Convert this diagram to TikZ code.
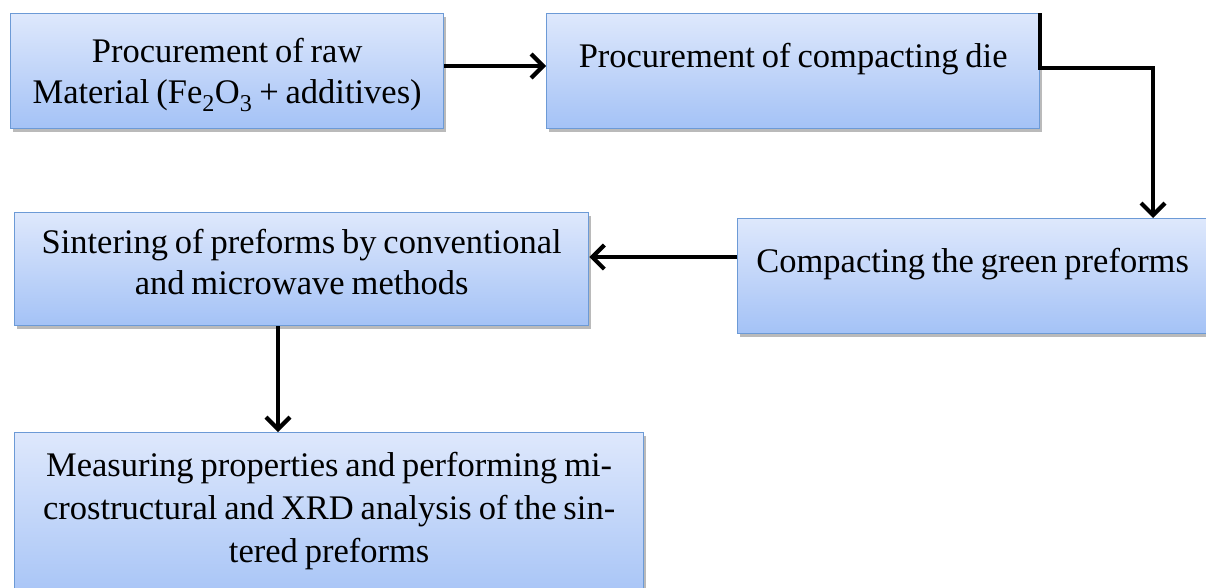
\documentclass[tikz,border=0pt]{standalone}
\usepackage{fontspec}
\setmainfont[WordSpace=0.8]{Liberation Serif}
\usetikzlibrary{arrows.meta,shadows}
\definecolor{boxtop}{HTML}{DEE8FC}
\definecolor{boxbot}{HTML}{A4C2F6}
\definecolor{boxline}{HTML}{6C9AD6}
\newcommand{\boxtxt}[4]{\parbox[c][#2][t]{#1}{\centering\fontsize{34.5}{41}\selectfont\vspace*{#3}\rule{0pt}{25pt}#4\par\vfill}}
\tikzset{
  flowbox/.style={rectangle, inner sep=0pt, anchor=north west, draw=boxline, line width=1.3pt,
    top color=boxtop, bottom color=boxbot,
    drop shadow={shadow xshift=2.5pt, shadow yshift=-3.5pt, opacity=0.45, fill=black!60}},
  arr/.style={line width=4.2pt, -{Straight Barb[length=12pt,width=24pt,line width=4.2pt]}}
}
\begin{document}
\begin{tikzpicture}[x=1pt,y=-1pt]
\useasboundingbox (0,0) rectangle (1206,587);
\clip (0,0) rectangle (1206,587);
\fill[white] (0,0) rectangle (1206,587);
\node[flowbox] (b1) at (10,13) {\boxtxt{433pt}{115pt}{24pt}{Procurement of raw\\Material (Fe\textsubscript{2}O\textsubscript{3} + additives)}};
\node[flowbox] (b2) at (546,13) {\boxtxt{493pt}{115pt}{29pt}{Procurement of compacting die}};
\node[flowbox] (b4) at (737,218) {\boxtxt{500pt}{115pt}{29pt}{\hspace*{-30pt}Compacting the green preforms}};
\node[flowbox] (b3) at (14,212) {\boxtxt{574pt}{113pt}{16pt}{Sintering of preforms by conventional\\and microwave methods}};
\node[flowbox] (b5) at (14,432) {\boxtxt{629pt}{175pt}{19pt}{\fontsize{34.5}{43}\selectfont Measuring properties and performing mi-\\crostructural and XRD analysis of the sin-\\tered preforms}};
\coordinate (turn) at (1153,68);
\draw[arr] (b1.east |- 0,66) -- (b2.west |- 0,66);
\draw[arr] (b2.north east) |- (turn) -- (turn |- b4.north);
\draw[arr] (b4.west |- 0,257) -- (b3.east |- 0,257);
\draw[arr] (b3.south -| 278,0) -- (b5.north -| 278,0);
\end{tikzpicture}
\end{document}
